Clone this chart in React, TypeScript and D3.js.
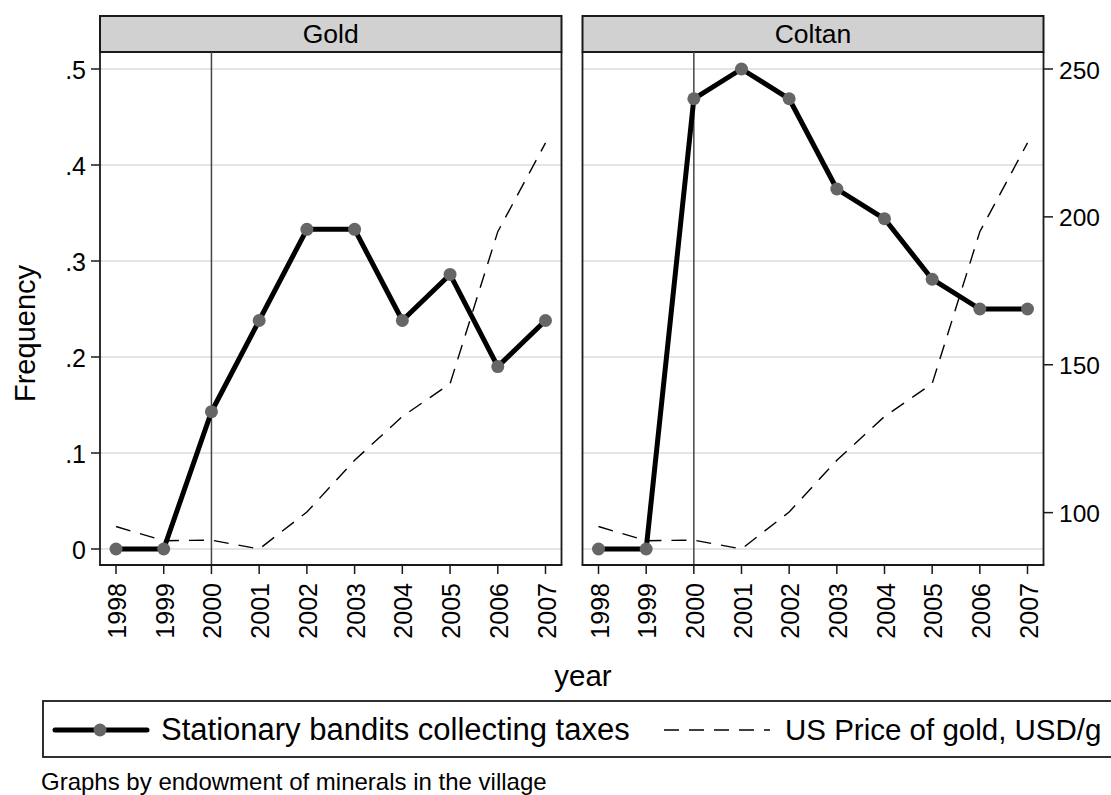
import React from "react";
import * as d3 from "d3";

const years = [1998, 1999, 2000, 2001, 2002, 2003, 2004, 2005, 2006, 2007];
const goldFreq = [0, 0, 0.143, 0.238, 0.333, 0.333, 0.238, 0.286, 0.19, 0.238];
const coltanFreq = [0, 0, 0.469, 0.5, 0.469, 0.375, 0.344, 0.281, 0.25, 0.25];
const goldPrice = [95.3, 90.5, 90.7, 87.7, 100.2, 117.7, 132.5, 143.6, 195, 225];
const freqTicks = [0, 0.1, 0.2, 0.3, 0.4, 0.5];
const priceTicks = [100, 150, 200, 250];
const panels = [
  { name: "Gold", freq: goldFreq },
  { name: "Coltan", freq: coltanFreq },
];

const W = 1111;
const H = 795;
const FONT = "'Liberation Sans', Arial, sans-serif";
const stripTop = 16;
const stripBottom = 52;
const plotBottom = 565;
const panelX = [
  [100, 561.5],
  [582.5, 1043.5],
];
const DARK = "#1a1a1a";
const DASH = "15 10";

const yFreq = d3.scaleLinear().domain([0, 0.5]).range([549, 69]);
const yPrice = d3.scaleLinear().domain([87.7, 250]).range([549, 69]);

function fmtFreq(v: number) {
  if (v === 0) return "0";
  return d3.format(".1f")(v).replace(/^0/, "");
}

export default function App() {
  return (
    <svg width={W} height={H} style={{ position: "absolute", left: 0, top: 0, background: "#fff" }} fontFamily={FONT}>
      <rect x={0} y={0} width={W} height={H} fill="#fff" />
      {panels.map((p, i) => {
        const [x0, x1] = panelX[i];
        const x = d3.scalePoint<number>().domain(years).range([x0 + 16, x1 - 16]);
        const freqLine = d3
          .line<number>()
          .x((_, j) => x(years[j])!)
          .y((d) => yFreq(d));
        const priceLine = d3
          .line<number>()
          .x((_, j) => x(years[j])!)
          .y((d) => yPrice(d));
        return (
          <g key={p.name}>
            {/* facet strip */}
            <rect x={x0} y={stripTop} width={x1 - x0} height={stripBottom - stripTop} fill="#d1d1d1" stroke={DARK} strokeWidth={2} />
            <text x={(x0 + x1) / 2} y={42.5} fontSize={26.5} textAnchor="middle" fill="#000">
              {p.name}
            </text>
            {/* horizontal grid */}
            {freqTicks.map((t) => (
              <line key={t} x1={x0} x2={x1} y1={yFreq(t)} y2={yFreq(t)} stroke="#dcdcdc" strokeWidth={1.5} />
            ))}
            {/* reference line at 2000 */}
            <line x1={x(2000)} x2={x(2000)} y1={stripBottom} y2={plotBottom} stroke="#444" strokeWidth={1.5} />
            {/* gold price, right axis */}
            <path d={priceLine(goldPrice)!} fill="none" stroke="#000" strokeWidth={1.4} strokeDasharray={DASH} />
            {/* share of villages with stationary bandits */}
            <path d={freqLine(p.freq)!} fill="none" stroke="#000" strokeWidth={5} strokeLinejoin="round" />
            {p.freq.map((v, j) => (
              <circle key={j} cx={x(years[j])} cy={yFreq(v)} r={6.5} fill="#666" />
            ))}
            {/* plot frame */}
            <line x1={x0} x2={x0} y1={stripBottom} y2={plotBottom} stroke={DARK} strokeWidth={1.8} />
            <line x1={x1} x2={x1} y1={stripBottom} y2={plotBottom} stroke={DARK} strokeWidth={1.8} />
            <line x1={x0 - 0.9} x2={x1 + 0.9} y1={plotBottom} y2={plotBottom} stroke={DARK} strokeWidth={2.2} />
            {/* x axis */}
            {years.map((yr) => (
              <g key={yr}>
                <line x1={x(yr)} x2={x(yr)} y1={plotBottom} y2={plotBottom + 9} stroke={DARK} strokeWidth={1.5} />
                <text
                  transform={`translate(${x(yr)! + 10},${plotBottom + 18}) rotate(-90)`}
                  fontSize={25}
                  textAnchor="end"
                  fill="#000"
                >
                  {yr}
                </text>
              </g>
            ))}
          </g>
        );
      })}
      {/* left axis: frequency */}
      {freqTicks.map((t) => (
        <g key={t}>
          <line x1={91} x2={100} y1={yFreq(t)} y2={yFreq(t)} stroke={DARK} strokeWidth={1.5} />
          <text x={86} y={yFreq(t) + 10} fontSize={25} textAnchor="end" fill="#000">
            {fmtFreq(t)}
          </text>
        </g>
      ))}
      {/* right axis: gold price */}
      {priceTicks.map((t) => (
        <g key={t}>
          <line x1={1043.5} x2={1053} y1={yPrice(t)} y2={yPrice(t)} stroke={DARK} strokeWidth={1.5} />
          <text x={1059} y={yPrice(t) + 9.5} fontSize={24.5} textAnchor="start" fill="#000">
            {t}
          </text>
        </g>
      ))}
      {/* axis titles */}
      <text transform={`translate(35,333.5) rotate(-90)`} fontSize={29} textAnchor="middle" fill="#000">
        Frequency
      </text>
      <text x={583} y={686} fontSize={29.5} textAnchor="middle" fill="#000">
        year
      </text>
      {/* legend */}
      <rect x={43} y={701} width={1100} height={56} fill="#fff" stroke={DARK} strokeWidth={1.8} />
      <line x1={55} x2={147} y1={730} y2={730} stroke="#000" strokeWidth={5} strokeLinecap="round" />
      <circle cx={100} cy={730} r={6.5} fill="#666" />
      <text x={161} y={740} fontSize={31} fill="#000">
        Stationary bandits collecting taxes
      </text>
      <line x1={664} x2={770} y1={730} y2={730} stroke="#000" strokeWidth={1.4} strokeDasharray={DASH} />
      <text x={785} y={740} fontSize={29.5} fill="#000">
        US Price of gold, USD/g
      </text>
      <text x={41} y={790} fontSize={24} fill="#000">
        Graphs by endowment of minerals in the village
      </text>
    </svg>
  );
}
